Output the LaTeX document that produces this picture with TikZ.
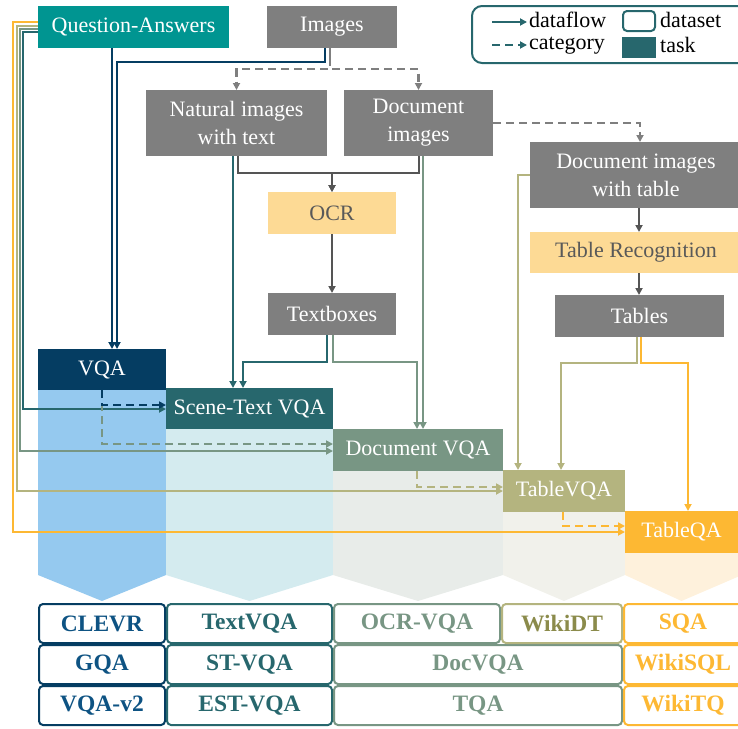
\documentclass[tikz,border=0pt]{standalone}
\usepackage{fontspec}
\setmainfont{Liberation Serif}
\usetikzlibrary{arrows.meta}
\definecolor{qafill}{HTML}{009591}
\definecolor{grayfill}{HTML}{7F7F7F}
\definecolor{procfill}{HTML}{FDDA95}
\definecolor{proctext}{HTML}{595959}
\definecolor{navy}{HTML}{053D62}
\definecolor{navytext}{HTML}{0E5383}
\definecolor{tealc}{HTML}{27676D}
\definecolor{greenc}{HTML}{789684}
\definecolor{olivec}{HTML}{B4B47F}
\definecolor{olivetext}{HTML}{8B8B4B}
\definecolor{yellowc}{HTML}{FDB833}
\definecolor{darkg}{HTML}{555555}
\definecolor{colA}{HTML}{95C9EF}
\definecolor{colB}{HTML}{D4EBEF}
\definecolor{colC}{HTML}{E8ECE9}
\definecolor{colD}{HTML}{F1F1EB}
\definecolor{colE}{HTML}{FEF1DC}
\tikzset{
  box/.style={inner sep=0pt, outer sep=0pt, text=white, font=\fontsize{22}{28}\selectfont, align=center},
  graybox/.style={box, fill=grayfill},
  procbox/.style={box, fill=procfill, text=proctext},
  dsbox/.style={draw, line width=2pt, rounded corners=4pt, fill=white, inner sep=0pt, outer sep=0pt, font=\fontsize{23.5}{27}\selectfont\bfseries},
  tipd/.style={-{Triangle[length=7pt,width=7pt]}},
  flowline/.style={line width=2.2pt, tipd},
  catline/.style={line width=2.4pt, dash pattern=on 8pt off 5pt, tipd},
  legtext/.style={anchor=west, inner sep=0pt, font=\fontsize{22}{24}\selectfont},
}
\begin{document}
\begin{tikzpicture}[x=1pt,y=-1pt]
\useasboundingbox (0,0) rectangle (738,728);
\clip (0,0) rectangle (738,728);

% columns
\fill[colA] (38,390) -- (166,390) -- (166,575) -- (102,601) -- (38,575) -- cycle;
\fill[colB] (166,429) -- (333,429) -- (333,575) -- (249.5,601) -- (166,575) -- cycle;
\fill[colC] (333,471) -- (503,471) -- (503,575) -- (418,601) -- (333,575) -- cycle;
\fill[colD] (503,512) -- (625,512) -- (625,575) -- (564,601) -- (503,575) -- cycle;
\fill[colE] (625,553) -- (742,553) -- (742,575) -- (681.5,601) -- (625,575) -- cycle;

% top nodes
\node[box, fill=qafill, minimum width=191pt, minimum height=42pt] (qa) at (133.5,27) {Question-Answers};
\node[graybox, minimum width=130pt, minimum height=42pt] (img) at (332,27) {Images};
\node[graybox, minimum width=181pt, minimum height=66pt] (nat) at (236.5,123) {Natural images\\with text};
\node[graybox, minimum width=149pt, minimum height=66pt] (doc) at (418.5,123) {Document\\images};
\node[graybox, minimum width=212pt, minimum height=66pt] (dtab) at (636,175) {Document images\\with table};
\node[procbox, minimum width=128pt, minimum height=42pt] (ocr) at (332,213) {OCR};
\node[graybox, minimum width=128pt, minimum height=42pt] (tbx) at (332,314) {Textboxes};
\node[procbox, minimum width=212pt, minimum height=41pt] (trec) at (636,252.5) {Table Recognition};
\node[graybox, minimum width=169pt, minimum height=42pt] (tabs) at (639.5,316) {Tables};

% task nodes
\node[box, fill=navy, minimum width=128pt, minimum height=41pt] (vqa) at (102,369.5) {VQA};
\node[box, fill=tealc, minimum width=167pt, minimum height=41pt] (stv) at (249.5,408.5) {Scene-Text VQA};
\node[box, fill=greenc, minimum width=170pt, minimum height=42pt] (dvqa) at (418,450) {Document VQA};
\node[box, fill=olivec, minimum width=122pt, minimum height=42pt] (tvqa) at (564,491) {TableVQA};
\node[box, fill=yellowc, minimum width=113pt, minimum height=42pt] (tqa) at (681.5,532) {TableQA};

% legend
\draw[tealc, line width=2pt, rounded corners=10pt] (472,6) rectangle (760,63);
\node[legtext] (lgflow) at (529,20) {dataflow};
\node[legtext] (lgcat) at (529,46) {category};
\node[draw=tealc, line width=2pt, rounded corners=4pt, inner sep=0pt, minimum width=32pt, minimum height=20pt] (lgds) at (639,21) {};
\node[fill=tealc, inner sep=0pt, minimum width=34pt, minimum height=21pt] (lgtask) at (639,47) {};
\node[legtext] (lgdstxt) at (660,20) {dataset};
\node[legtext] (lgtasktxt) at (660,45) {task};
\draw[flowline, tealc] ([xshift=-37pt,yshift=-2pt]lgflow.west) -- ([xshift=-2pt,yshift=-2pt]lgflow.west);
\draw[tealc, line width=2.4pt, dash pattern=on 8pt off 5pt, -{Triangle[length=7pt,width=7pt]}] ([xshift=-37pt,yshift=1pt]lgcat.west) -- ([xshift=-2pt,yshift=1pt]lgcat.west);

% category (dashed gray)
\draw[grayfill, line width=2pt] ([xshift=-2pt]img.south) -- ++(0,10);
\draw[catline, grayfill] ([xshift=-2pt,yshift=-10pt]img.south) -- ++(0,11) -| (nat.north);
\draw[catline, grayfill] ([xshift=-2pt,yshift=-10pt]img.south) -- ++(0,11) -| (doc.north);
\draw[catline, grayfill] (doc.east) -| ([xshift=4pt]dtab.north);

% processing flow (dark gray)
\draw[flowline, darkg] ([xshift=1.5pt]nat.south) -- ++(0,17) -| (ocr.north);
\draw[flowline, darkg] ([xshift=0.5pt]doc.south) -- ++(0,17) -| (ocr.north);
\draw[flowline, darkg] (ocr.south) -- (tbx.north);
\draw[flowline, darkg] ([xshift=3pt]dtab.south) -- ([xshift=3pt]trec.north);
\draw[flowline, darkg] ([xshift=3pt]trec.south) -- ([xshift=-0.5pt]tabs.north);

% navy flow into VQA
\draw[flowline, navy] ([xshift=-7pt]img.south) -- ++(0,14) -| ([xshift=15pt]vqa.north);
\draw[flowline, navy] ([xshift=-21.5pt]qa.south) -- ([xshift=10pt]vqa.north);

% teal flow into Scene-Text VQA
\draw[flowline, tealc] ([xshift=-3.5pt]nat.south) -- ([xshift=-16.5pt]stv.north);
\draw[flowline, tealc] ([xshift=-5pt]tbx.south) -- ++(0,27) -| ([xshift=-6.5pt]stv.north);

% green flow into Document VQA
\draw[flowline, greenc] ([xshift=1pt]tbx.south) -- ++(0,27) -| ([xshift=-1pt]dvqa.north);
\draw[flowline, greenc] ([xshift=4.5pt]doc.south) -- ([xshift=5pt]dvqa.north);

% olive flow into TableVQA
\draw[flowline, olivec] ([yshift=0pt]dtab.west) -| ([xshift=-46pt]tvqa.north);
\draw[flowline, olivec] ([xshift=-2.5pt]tabs.south) -- ++(0,26) -| ([xshift=-3pt]tvqa.north);

% yellow flow into TableQA
\draw[flowline, yellowc] ([xshift=1.5pt]tabs.south) -- ++(0,26) -| ([xshift=6.5pt]tqa.north);

% lines from Question-Answers along the left edge
\draw[flowline, yellowc] ([yshift=5pt]qa.west) -- ++(-25,0) |- (tqa.west);
\draw[flowline, olivec] ([yshift=1pt]qa.west) -- ++(-21,0) |- (tvqa.west);
\draw[flowline, greenc] ([yshift=-2pt]qa.west) -- ++(-18,0) |- ([yshift=-1pt]dvqa.west);
\draw[flowline, tealc] ([yshift=-5pt]qa.west) -- ++(-15,0) |- ([yshift=-0.5pt]stv.west);

% category arrows between tasks
\draw[catline, greenc] (vqa.south) |- ([yshift=6pt]dvqa.west);
\draw[catline, navy] (vqa.south) |- ([yshift=3.5pt]stv.west);
\draw[catline, olivec] ([xshift=-1pt]dvqa.south) |- ([yshift=4pt]tvqa.west);
\draw[catline, yellowc] ([xshift=-1pt]tvqa.south) |- ([yshift=6pt]tqa.west);

% datasets
\node[dsbox, draw=navy, text=navytext, minimum width=126pt, minimum height=39pt] (clevr) at (102,623.5) {CLEVR};
\node[dsbox, draw=navy, text=navytext, minimum width=126pt, minimum height=39pt] (gqa) at (102,664.5) {GQA};
\node[dsbox, draw=navy, text=navytext, minimum width=126pt, minimum height=39pt] (vqav) at (102,705.5) {VQA-v2};
\node[dsbox, draw=tealc, text=tealc, minimum width=165pt, minimum height=39pt] (textvqa) at (249.5,623.5) {TextVQA};
\node[dsbox, draw=tealc, text=tealc, minimum width=165pt, minimum height=39pt] (stvqa) at (249.5,664.5) {ST-VQA};
\node[dsbox, draw=tealc, text=tealc, minimum width=165pt, minimum height=39pt] (estvqa) at (249.5,705.5) {EST-VQA};
\node[dsbox, draw=greenc, text=greenc, minimum width=166pt, minimum height=39pt] (ocrvqa) at (417,623.5) {OCR-VQA};
\node[dsbox, draw=greenc, text=greenc, minimum width=288pt, minimum height=39pt] (docvqa) at (478,664.5) {DocVQA};
\node[dsbox, draw=greenc, text=greenc, minimum width=288pt, minimum height=39pt] (tqads) at (478,705.5) {TQA};
\node[dsbox, draw=olivec, text=olivetext, minimum width=120pt, minimum height=39pt] (wikidt) at (562,623.5) {WikiDT};
\node[dsbox, draw=yellowc, text=yellowc, minimum width=118pt, minimum height=39pt] (sqa) at (683,623.5) {SQA};
\node[dsbox, draw=yellowc, text=yellowc, minimum width=118pt, minimum height=39pt] (wikisql) at (683,664.5) {WikiSQL};
\node[dsbox, draw=yellowc, text=yellowc, minimum width=118pt, minimum height=39pt] (wikitq) at (683,705.5) {WikiTQ};
\end{tikzpicture}
\end{document}
